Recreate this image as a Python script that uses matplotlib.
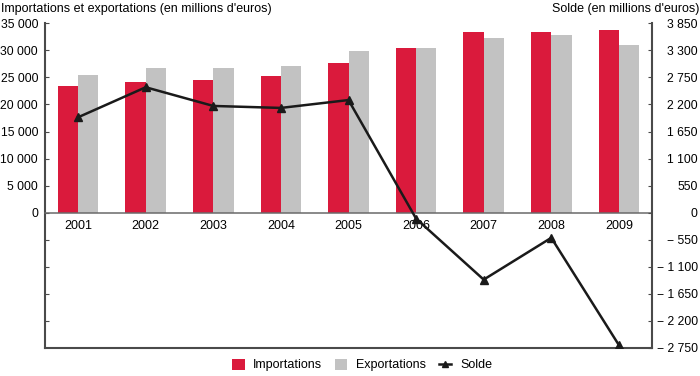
#!/usr/bin/env python3
"""Importations / exportations (bars) and solde (line, right axis), 2001-2009."""
import matplotlib
matplotlib.use('Agg')
import matplotlib.pyplot as plt
from matplotlib.patches import Patch
from matplotlib.lines import Line2D

plt.rcParams['font.family'] = ['Liberation Sans Narrow', 'Liberation Sans', 'DejaVu Sans']
plt.rcParams['font.size'] = 9

# Data (millions d'euros)
years = ['2001', '2002', '2003', '2004', '2005', '2006', '2007', '2008', '2009']
importations = [23500, 24100, 24500, 25200, 27600, 30400, 33400, 33400, 33700]
exportations = [25500, 26700, 26700, 27200, 29800, 30400, 32300, 32900, 31000]
solde = [1940, 2550, 2170, 2130, 2290, -120, -1360, -510, -2690]

left_ticks = [-20000, -15000, -10000, -5000, 0, 5000, 10000, 15000, 20000, 25000, 30000, 35000]
right_ticks = [-2750, -2200, -1650, -1100, -550, 0, 550, 1100, 1650, 2200, 2750, 3300, 3850]

RED = '#DA1A3C'
GREY = '#C2C2C2'
DARK = '#1A1A1A'
SPINE = '#4A4A4A'


def fmt_thousands(v):
    s = f'{abs(v):,}'.replace(',', ' ')
    if v < 0:
        return '\u2212 ' + s
    return s


fig = plt.figure(figsize=(7.0, 3.76), dpi=100)
ax = fig.add_axes([45 / 700, 1 - 348 / 376, (652 - 45) / 700, (348 - 23.3) / 376])
ax2 = ax.twinx()

x = list(range(len(years)))
w = 0.3
ax.bar([i - w / 2 for i in x], importations, width=w, color=RED, zorder=2)
ax.bar([i + w / 2 for i in x], exportations, width=w, color=GREY, zorder=2)

ax.set_xlim(-0.49, len(years) - 0.51)
ax.set_ylim(-25000, 35000)
ax.set_yticks(left_ticks)
ax.set_yticklabels([fmt_thousands(v) if v >= 0 else '' for v in left_ticks])
ax.tick_params(axis='y', direction='in', length=3, pad=5, labelsize=8.7,
               colors=SPINE, labelcolor='black')

# x axis sits on the zero line
ax.spines['bottom'].set_position(('data', 0))
ax.spines['bottom'].set_color('#6A6A6A')
ax.spines['bottom'].set_linewidth(1.1)
ax.set_xticks(x)
ax.set_xticklabels(years)
ax.tick_params(axis='x', length=0, pad=5)
ax.spines['top'].set_visible(False)
ax.spines['right'].set_visible(False)
ax.spines['left'].set_color(SPINE)
ax.spines['left'].set_linewidth(1.5)

ax2.plot(x, solde, color=DARK, linewidth=1.8, marker='^', markersize=6, zorder=3)
ax2.set_ylim(-2750, 3850)
ax2.set_yticks(right_ticks)
ax2.set_yticklabels([fmt_thousands(v) for v in right_ticks])
ax2.tick_params(axis='y', direction='in', length=3, pad=33, labelsize=8.7,
                colors=SPINE, labelcolor='black')
for lab in ax2.get_yticklabels():
    lab.set_horizontalalignment('right')
ax2.spines['top'].set_visible(False)
ax2.spines['left'].set_visible(False)
ax2.spines['right'].set_color(SPINE)
ax2.spines['right'].set_linewidth(1.5)
ax2.spines['bottom'].set_color(SPINE)
ax2.spines['bottom'].set_linewidth(1.5)

fig.text(0.001, 1 - 9 / 376, "Importations et exportations (en millions d'euros)",
         ha='left', va='center')
fig.text(699 / 700, 1 - 9 / 376, "Solde (en millions d'euros)",
         ha='right', va='center')

handles = [
    Patch(facecolor=RED, edgecolor='none'),
    Patch(facecolor=GREY, edgecolor='none'),
    Line2D([], [], color=DARK, linewidth=1.8, marker='^', markersize=5),
]
fig.legend(handles, ['Importations', 'Exportations', 'Solde'], loc='center',
           bbox_to_anchor=(362 / 700, 1 - 365 / 376), ncol=3, frameon=False,
           handlelength=1.0, handleheight=1.0, columnspacing=1.0, handletextpad=0.7)

fig.savefig('out.png', dpi=100)
